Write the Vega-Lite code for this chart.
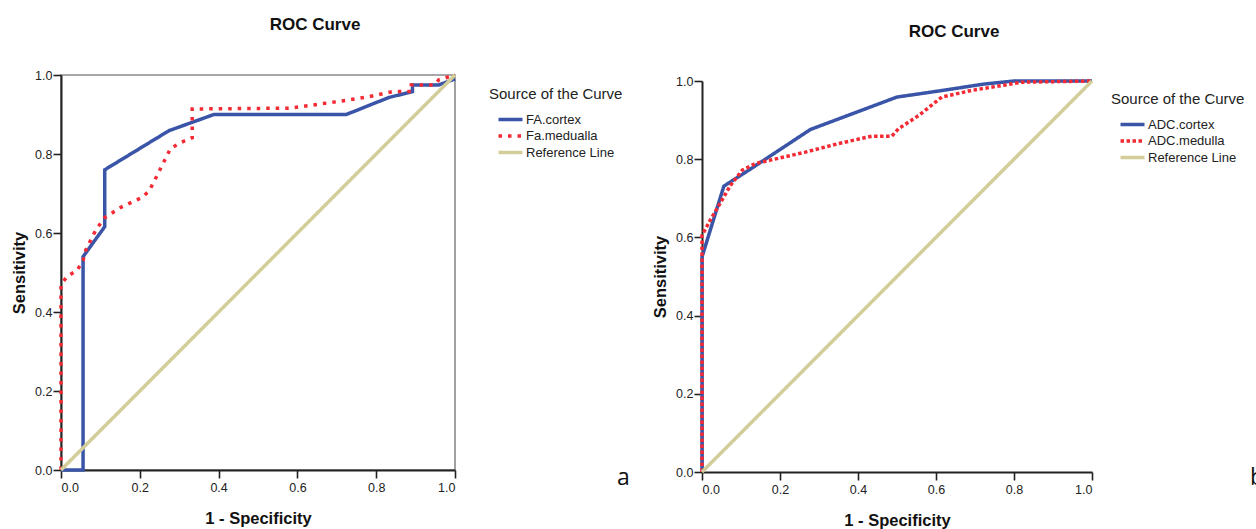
{
  "$schema": "https://vega.github.io/schema/vega-lite/v6.json",
  "background": "white",
  "padding": {"left": 10, "top": 15, "right": 0, "bottom": 0},
  "spacing": 16,
  "config": {
    "font": "Liberation Sans",
    "view": {"stroke": "#8a8a8a", "strokeWidth": 1.6},
    "axis": {
      "grid": false,
      "domainColor": "#222222",
      "domainWidth": 2,
      "tickColor": "#222222",
      "tickWidth": 1.6,
      "tickSize": 8,
      "labelFont": "Liberation Sans",
      "labelFontSize": 12.5,
      "labelColor": "#222222",
      "titleFont": "Liberation Sans",
      "titleFontSize": 16.5,
      "titleFontWeight": "bold",
      "titleColor": "#111111"
    },
    "legend": {
      "titleFont": "Liberation Sans",
      "titleFontSize": 15,
      "titleFontWeight": "normal",
      "titleColor": "#222222",
      "titlePadding": 9.5,
      "labelFont": "Liberation Sans",
      "labelFontSize": 13,
      "labelColor": "#222222",
      "labelOffset": 7.5,
      "symbolType": "M-2,0H2",
      "symbolSize": 144,
      "symbolStrokeWidth": 3.5,
      "symbolOffset": 13.5,
      "rowPadding": 1.5
    },
    "title": {"font": "Liberation Sans", "fontSize": 17, "fontWeight": "bold", "color": "#111111", "frame": "group", "anchor": "middle", "dx": 57, "offset": 34}
  },
  "hconcat": [
    {
      "title": "ROC Curve",
      "width": 394,
      "height": 395,
      "layer": [
        {
          "data": {"values": [
            {"s": "FA.cortex", "o": 0, "fpr": 0, "tpr": 0},
            {"s": "FA.cortex", "o": 1, "fpr": 0.056, "tpr": 0},
            {"s": "FA.cortex", "o": 2, "fpr": 0.056, "tpr": 0.54},
            {"s": "FA.cortex", "o": 3, "fpr": 0.111, "tpr": 0.616},
            {"s": "FA.cortex", "o": 4, "fpr": 0.111, "tpr": 0.76},
            {"s": "FA.cortex", "o": 5, "fpr": 0.274, "tpr": 0.859},
            {"s": "FA.cortex", "o": 6, "fpr": 0.388, "tpr": 0.9},
            {"s": "FA.cortex", "o": 7, "fpr": 0.724, "tpr": 0.9},
            {"s": "FA.cortex", "o": 8, "fpr": 0.832, "tpr": 0.943},
            {"s": "FA.cortex", "o": 9, "fpr": 0.892, "tpr": 0.958},
            {"s": "FA.cortex", "o": 10, "fpr": 0.892, "tpr": 0.975},
            {"s": "FA.cortex", "o": 11, "fpr": 0.959, "tpr": 0.975},
            {"s": "FA.cortex", "o": 12, "fpr": 1, "tpr": 0.99},
            {"s": "Fa.medualla", "o": 0, "fpr": 0, "tpr": 0},
            {"s": "Fa.medualla", "o": 1, "fpr": 0, "tpr": 0.47},
            {"s": "Fa.medualla", "o": 2, "fpr": 0.016, "tpr": 0.49},
            {"s": "Fa.medualla", "o": 3, "fpr": 0.041, "tpr": 0.506},
            {"s": "Fa.medualla", "o": 4, "fpr": 0.056, "tpr": 0.53},
            {"s": "Fa.medualla", "o": 5, "fpr": 0.063, "tpr": 0.557},
            {"s": "Fa.medualla", "o": 6, "fpr": 0.088, "tpr": 0.607},
            {"s": "Fa.medualla", "o": 7, "fpr": 0.111, "tpr": 0.639},
            {"s": "Fa.medualla", "o": 8, "fpr": 0.152, "tpr": 0.665},
            {"s": "Fa.medualla", "o": 9, "fpr": 0.206, "tpr": 0.69},
            {"s": "Fa.medualla", "o": 10, "fpr": 0.224, "tpr": 0.707},
            {"s": "Fa.medualla", "o": 11, "fpr": 0.24, "tpr": 0.738},
            {"s": "Fa.medualla", "o": 12, "fpr": 0.278, "tpr": 0.814},
            {"s": "Fa.medualla", "o": 13, "fpr": 0.304, "tpr": 0.829},
            {"s": "Fa.medualla", "o": 14, "fpr": 0.333, "tpr": 0.841},
            {"s": "Fa.medualla", "o": 15, "fpr": 0.333, "tpr": 0.914},
            {"s": "Fa.medualla", "o": 16, "fpr": 0.58, "tpr": 0.916},
            {"s": "Fa.medualla", "o": 17, "fpr": 0.697, "tpr": 0.932},
            {"s": "Fa.medualla", "o": 18, "fpr": 0.782, "tpr": 0.945},
            {"s": "Fa.medualla", "o": 19, "fpr": 0.841, "tpr": 0.958},
            {"s": "Fa.medualla", "o": 20, "fpr": 0.889, "tpr": 0.958},
            {"s": "Fa.medualla", "o": 21, "fpr": 0.889, "tpr": 0.975},
            {"s": "Fa.medualla", "o": 22, "fpr": 0.947, "tpr": 0.975},
            {"s": "Fa.medualla", "o": 23, "fpr": 0.959, "tpr": 0.988},
            {"s": "Fa.medualla", "o": 24, "fpr": 1, "tpr": 1},
            {"s": "Reference Line", "o": 0, "fpr": 0, "tpr": 0},
            {"s": "Reference Line", "o": 1, "fpr": 1, "tpr": 1}
          ]},
          "mark": {"type": "line", "strokeWidth": 3.5, "strokeCap": "butt", "strokeJoin": "miter", "clip": false},
          "encoding": {
            "x": {"field": "fpr", "type": "quantitative", "scale": {"domain": [0, 1], "nice": false, "zero": false},
                  "axis": {"title": "1 - Specificity", "values": [0, 0.2, 0.4, 0.6, 0.8, 1], "format": ".1f", "labelPadding": 3, "titlePadding": 17}},
            "y": {"field": "tpr", "type": "quantitative", "scale": {"domain": [0, 1], "nice": false, "zero": false},
                  "axis": {"title": "Sensitivity", "values": [0, 0.2, 0.4, 0.6, 0.8, 1], "format": ".1f", "labelPadding": 1, "titlePadding": 7}},
            "order": {"field": "o", "type": "quantitative"},
            "color": {"field": "s", "type": "nominal",
                      "scale": {"domain": ["FA.cortex", "Fa.medualla", "Reference Line"], "range": ["#3a55a8", "#f42a35", "#d3cd99"]},
                      "legend": {"title": "Source of the Curve", "orient": "right", "offset": 15, "padding": 12}},
            "strokeDash": {"field": "s", "type": "nominal",
                      "scale": {"domain": ["FA.cortex", "Fa.medualla", "Reference Line"], "range": [[1, 0], [3.5, 6], [1, 0]]},
                      "legend": {"title": "Source of the Curve", "orient": "right", "offset": 15, "padding": 12}}
          }
        },
        {
          "data": {"values": [{"lab": "a"}]},
          "mark": {"type": "text", "font": "Open Sans", "fontSize": 23, "align": "left", "baseline": "alphabetic", "color": "#111111", "clip": false},
          "encoding": {
            "x": {"datum": 1.411, "type": "quantitative"},
            "y": {"datum": -0.038, "type": "quantitative"},
            "text": {"field": "lab"}
          }
        }
      ]
    },
    {
      "title": {"text": "ROC Curve", "offset": 33},
      "width": 390,
      "height": 397,
      "view": {"stroke": null},
      "layer": [
        {
          "mark": {"type": "rule", "color": "#8a8a8a", "strokeWidth": 1.6},
          "encoding": {
            "x": {"datum": 0, "type": "quantitative"},
            "x2": {"datum": 1},
            "y": {"datum": 1, "type": "quantitative"}
          }
        },
        {
          "mark": {"type": "rule", "color": "#8a8a8a", "strokeWidth": 1.6},
          "encoding": {
            "x": {"datum": 1, "type": "quantitative"},
            "y": {"datum": 0, "type": "quantitative"},
            "y2": {"datum": 1}
          }
        },
        {
          "data": {"values": [
            {"s": "ADC.cortex", "o": 0, "fpr": 0, "tpr": 0},
            {"s": "ADC.cortex", "o": 1, "fpr": 0, "tpr": 0.55},
            {"s": "ADC.cortex", "o": 2, "fpr": 0.056, "tpr": 0.731},
            {"s": "ADC.cortex", "o": 3, "fpr": 0.12, "tpr": 0.772},
            {"s": "ADC.cortex", "o": 4, "fpr": 0.278, "tpr": 0.876},
            {"s": "ADC.cortex", "o": 5, "fpr": 0.5, "tpr": 0.959},
            {"s": "ADC.cortex", "o": 6, "fpr": 0.611, "tpr": 0.975},
            {"s": "ADC.cortex", "o": 7, "fpr": 0.722, "tpr": 0.992},
            {"s": "ADC.cortex", "o": 8, "fpr": 0.8, "tpr": 1},
            {"s": "ADC.cortex", "o": 9, "fpr": 1, "tpr": 1},
            {"s": "ADC.medulla", "o": 0, "fpr": 0, "tpr": 0},
            {"s": "ADC.medulla", "o": 1, "fpr": 0, "tpr": 0.605},
            {"s": "ADC.medulla", "o": 2, "fpr": 0.021, "tpr": 0.644},
            {"s": "ADC.medulla", "o": 3, "fpr": 0.051, "tpr": 0.695},
            {"s": "ADC.medulla", "o": 4, "fpr": 0.073, "tpr": 0.733},
            {"s": "ADC.medulla", "o": 5, "fpr": 0.103, "tpr": 0.772},
            {"s": "ADC.medulla", "o": 6, "fpr": 0.137, "tpr": 0.789},
            {"s": "ADC.medulla", "o": 7, "fpr": 0.265, "tpr": 0.818},
            {"s": "ADC.medulla", "o": 8, "fpr": 0.35, "tpr": 0.84},
            {"s": "ADC.medulla", "o": 9, "fpr": 0.436, "tpr": 0.859},
            {"s": "ADC.medulla", "o": 10, "fpr": 0.487, "tpr": 0.859},
            {"s": "ADC.medulla", "o": 11, "fpr": 0.504, "tpr": 0.878},
            {"s": "ADC.medulla", "o": 12, "fpr": 0.556, "tpr": 0.912},
            {"s": "ADC.medulla", "o": 13, "fpr": 0.615, "tpr": 0.959},
            {"s": "ADC.medulla", "o": 14, "fpr": 0.692, "tpr": 0.976},
            {"s": "ADC.medulla", "o": 15, "fpr": 0.778, "tpr": 0.99},
            {"s": "ADC.medulla", "o": 16, "fpr": 0.82, "tpr": 0.997},
            {"s": "ADC.medulla", "o": 17, "fpr": 1, "tpr": 1},
            {"s": "Reference Line", "o": 0, "fpr": 0, "tpr": 0},
            {"s": "Reference Line", "o": 1, "fpr": 1, "tpr": 1}
          ]},
          "mark": {"type": "line", "strokeWidth": 3.5, "strokeCap": "butt", "strokeJoin": "miter", "clip": false},
          "encoding": {
            "x": {"field": "fpr", "type": "quantitative", "scale": {"domain": [0, 1], "nice": false, "zero": false},
                  "axis": {"title": "1 - Specificity", "values": [0, 0.2, 0.4, 0.6, 0.8, 1], "format": ".1f", "labelPadding": 3, "titlePadding": 17}},
            "y": {"field": "tpr", "type": "quantitative", "scale": {"domain": [0, 1], "nice": false, "zero": false, "range": [397, 6]},
                  "axis": {"title": "Sensitivity", "values": [0, 0.2, 0.4, 0.6, 0.8, 1], "format": ".1f", "labelPadding": 1, "titlePadding": 7}},
            "order": {"field": "o", "type": "quantitative"},
            "color": {"field": "s", "type": "nominal",
                      "scale": {"domain": ["ADC.cortex", "ADC.medulla", "Reference Line"], "range": ["#3a55a8", "#f42a35", "#d3cd99"]},
                      "legend": {"title": "Source of the Curve", "orient": "right", "offset": -5, "padding": 17}},
            "strokeDash": {"field": "s", "type": "nominal",
                      "scale": {"domain": ["ADC.cortex", "ADC.medulla", "Reference Line"], "range": [[1, 0], [3.5, 2.5], [1, 0]]},
                      "legend": {"title": "Source of the Curve", "orient": "right", "offset": -5, "padding": 17}}
          }
        },
        {
          "data": {"values": [{"lab": "b"}]},
          "mark": {"type": "text", "font": "Open Sans", "fontSize": 23, "align": "left", "baseline": "alphabetic", "color": "#111111", "clip": false},
          "encoding": {
            "x": {"datum": 1.405, "type": "quantitative"},
            "y": {"datum": -0.034, "type": "quantitative"},
            "text": {"field": "lab"}
          }
        }
      ]
    }
  ],
  "resolve": {"scale": {"color": "independent", "strokeDash": "independent"}}
}
